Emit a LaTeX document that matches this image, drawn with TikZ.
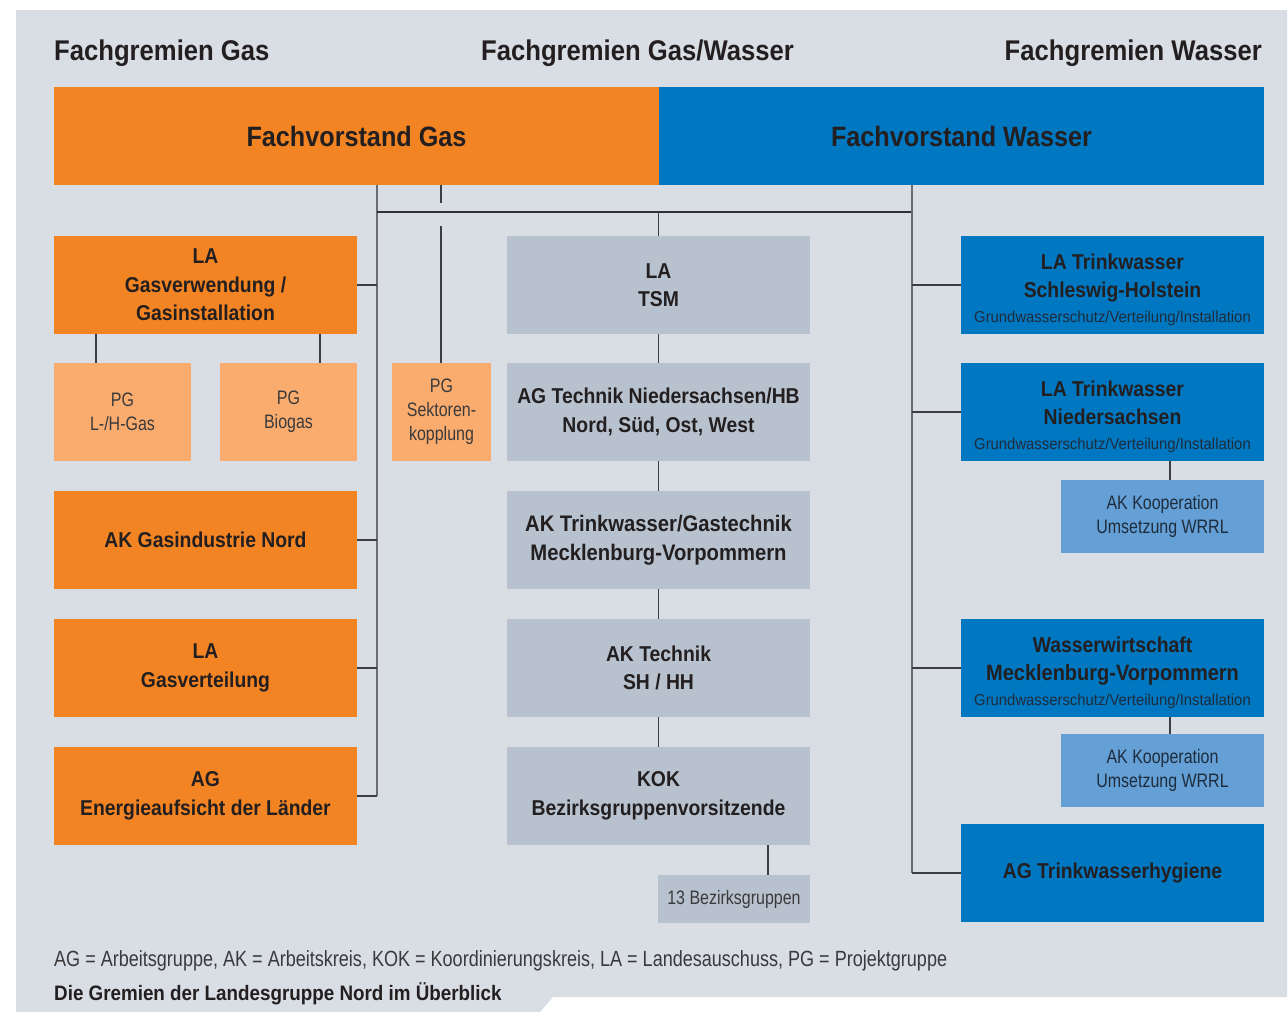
\documentclass[tikz,border=0pt]{standalone}
\usepackage{fontspec}
\setmainfont{Liberation Sans}
\newfontfamily\bfc{Liberation Sans}[FakeStretch=0.9]
\newfontfamily\lfc{Liberation Sans}[FakeStretch=0.82]
\newfontfamily\sfc{Liberation Sans}[FakeStretch=0.94]
\definecolor{bgc}{HTML}{D9DDE4}
\definecolor{orgc}{HTML}{F38423}
\definecolor{lorgc}{HTML}{F9AC6E}
\definecolor{bluec}{HTML}{0077C1}
\definecolor{lbluec}{HTML}{64A0D6}
\definecolor{grayc}{HTML}{B8C2CE}
\definecolor{ink}{HTML}{231F20}
\definecolor{inkl}{HTML}{3A3A3C}
\definecolor{inkb}{HTML}{1E2C3C}
\definecolor{linec}{HTML}{6A6B6E}
\definecolor{linedk}{HTML}{3C3D40}
\begin{document}
\begin{tikzpicture}[x=1pt,y=-1pt,
  box/.style={inner sep=0pt, outer sep=0pt, align=center, text=ink,
    font=\bfc\bfseries\fontsize{21.5}{28.5}\selectfont},
  bigbox/.style={box, minimum width=303pt, minimum height=98pt},
  orgbox/.style={bigbox, fill=orgc},
  bluebox/.style={bigbox, fill=bluec},
  graybox/.style={bigbox, fill=grayc},
  lightbox/.style={box, text=inkl, font=\lfc\fontsize{19.5}{24}\selectfont},
  pgbox/.style={lightbox, fill=lorgc, minimum width=137pt, minimum height=98pt},
  akbox/.style={lightbox, fill=lbluec, text=inkb, minimum width=203pt, minimum height=73pt},
  fvbox/.style={box, minimum width=605pt, minimum height=98pt,
    font=\bfc\bfseries\fontsize{28}{32}\selectfont},
  head/.style={inner sep=0pt, text=ink, font=\bfc\bfseries\fontsize{28.5}{32}\selectfont},
  trunk/.style={draw=linec, line width=2pt},
  branch/.style={draw=linedk, line width=1.5pt},
  bar/.style={draw=linedk!80!black, line width=1.5pt},
]
\useasboundingbox (0,0) rectangle (1288,1012);
\fill[white] (0,0) rectangle (1288,1012);
\fill[bgc] (16,10) -- (1287,10) -- (1287,997) -- (553,997) -- (540,1012) -- (16,1012) -- cycle;

% headers
\node[head, anchor=base west] (hgas) at (54,60) {Fachgremien Gas};
\node[head, anchor=base] (hgw) at (637.5,60) {Fachgremien Gas/Wasser};
\node[head, anchor=base east] (hwas) at (1262,60) {Fachgremien Wasser};

% Fachvorstaende
\node[fvbox, fill=orgc] (fvg) at (356.5,136) {Fachvorstand Gas};
\node[fvbox, fill=bluec] (fvw) at (961.5,136) {Fachvorstand Wasser};

% left column
\node[orgbox] (lagv) at (205.5,285) {LA\\Gasverwendung /\\Gasinstallation};
\node[pgbox] (pglh) at (122.5,412) {PG\\L-/H-Gas};
\node[pgbox] (pgbio) at (288.5,412) {PG\\Biogas};
\node[pgbox, minimum width=99pt] (pgsek) at (441.5,412) {PG\\Sektoren-\\kopplung};
\node[orgbox] (akgn) at (205.5,540) {AK Gasindustrie Nord};
\node[orgbox] (lagvt) at (205.5,668) {LA\\Gasverteilung};
\node[orgbox] (agea) at (205.5,796) {AG\\Energieaufsicht der Länder};

% middle column
\node[graybox] (latsm) at (658.5,285) {LA\\TSM};
\node[graybox] (agtech) at (658.5,412) {AG Technik Niedersachsen/HB\\Nord, Süd, Ost, West};
\node[graybox] (aktw) at (658.5,540) {{\fontsize{22.5}{28.5}\selectfont AK Trinkwasser/Gastechnik}\\{\fontsize{22.5}{28.5}\selectfont Mecklenburg-Vorpommern}};
\node[graybox] (aktsh) at (658.5,668) {AK Technik\\SH / HH};
\node[graybox] (kok) at (658.5,796) {KOK\\Bezirksgruppenvorsitzende};
\node[lightbox, fill=grayc, minimum width=152pt, minimum height=48pt] (bez) at (734,899) {13 Bezirksgruppen};

% right column
\newcommand{\subline}{{\sfc\mdseries\color{inkb}\fontsize{15.8}{18}\selectfont Grundwasserschutz/Verteilung/Installation}}
\node[bluebox] (latsh) at (1112.5,285) {\rule{0pt}{25pt}LA Trinkwasser\\Schleswig-Holstein\\[-4pt]\subline};
\node[bluebox] (latni) at (1112.5,412) {\rule{0pt}{25pt}LA Trinkwasser\\Niedersachsen\\[-4pt]\subline};
\node[akbox] (akk1) at (1162.5,516.5) {AK Kooperation\\Umsetzung WRRL};
\node[bluebox] (wwmv) at (1112.5,668) {\rule{0pt}{25pt}Wasserwirtschaft\\{\fontsize{22.2}{28.5}\selectfont Mecklenburg-Vorpommern}\\[-4pt]\subline};
\node[akbox] (akk2) at (1162.5,770.5) {AK Kooperation\\Umsetzung WRRL};
\node[bluebox] (agtwh) at (1112.5,873) {AG Trinkwasserhygiene};

% coordinates for connector lines
\coordinate (gt) at (377,185);
\coordinate (wt) at (912,185);
\coordinate (hbl) at (377,212);
\coordinate (hbr) at (912,212);
\coordinate (stA) at (441,185);
\coordinate (stB) at (441,203);
\coordinate (stC) at (441,226);
\coordinate (cl) at (96,0);
\coordinate (cr) at (320,0);
\coordinate (cb) at (768,0);
\coordinate (ck) at (1170,0);

% gas trunk and branches
\draw[trunk] (gt) -- (gt |- agea.east);
\draw[branch] (lagv.east) -- (lagv.east -| gt);
\draw[branch] (akgn.east) -- (akgn.east -| gt);
\draw[branch] (lagvt.east) -- (lagvt.east -| gt);
\draw[branch] (agea.east) -- (agea.east -| gt);
\draw[branch] (lagv.south -| cl) -- (pglh.north -| cl);
\draw[branch] (lagv.south -| cr) -- (pgbio.north -| cr);

% horizontal bar
\draw[bar] (hbl) -- (hbr);

% Sektorenkopplung line (with gap at bar)
\draw[branch] (stA) -- (stB);
\draw[branch] (stC) -- (pgsek.north -| stC);

% middle chain
\draw[branch] (latsm.north |- hbl) -- (latsm.north);
\draw[branch] (latsm.south) -- (agtech.north);
\draw[branch] (agtech.south) -- (aktw.north);
\draw[branch] (aktw.south) -- (aktsh.north);
\draw[branch] (aktsh.south) -- (kok.north);
\draw[branch] (kok.south -| cb) -- (bez.north -| cb);

% water trunk and branches
\draw[trunk] (wt) -- (wt |- agtwh.west);
\draw[branch] (latsh.west) -- (latsh.west -| wt);
\draw[branch] (latni.west) -- (latni.west -| wt);
\draw[branch] (wwmv.west) -- (wwmv.west -| wt);
\draw[branch] (agtwh.west) -- (agtwh.west -| wt);
\draw[branch] (latni.south -| ck) -- (akk1.north -| ck);
\draw[branch] (wwmv.south -| ck) -- (akk2.north -| ck);

% footnotes
\node[inner sep=0pt, anchor=base west, text=inkl, font=\lfc\fontsize{22}{26}\selectfont] (foot) at (54,966)
  {AG = Arbeitsgruppe, AK = Arbeitskreis, KOK = Koordinierungskreis, LA = Landesauschuss, PG = Projektgruppe};
\node[inner sep=0pt, anchor=base west, text=ink, font=\bfc\bfseries\fontsize{20.9}{24}\selectfont] (title) at (54,1000)
  {Die Gremien der Landesgruppe Nord im Überblick};
\end{tikzpicture}
\end{document}
